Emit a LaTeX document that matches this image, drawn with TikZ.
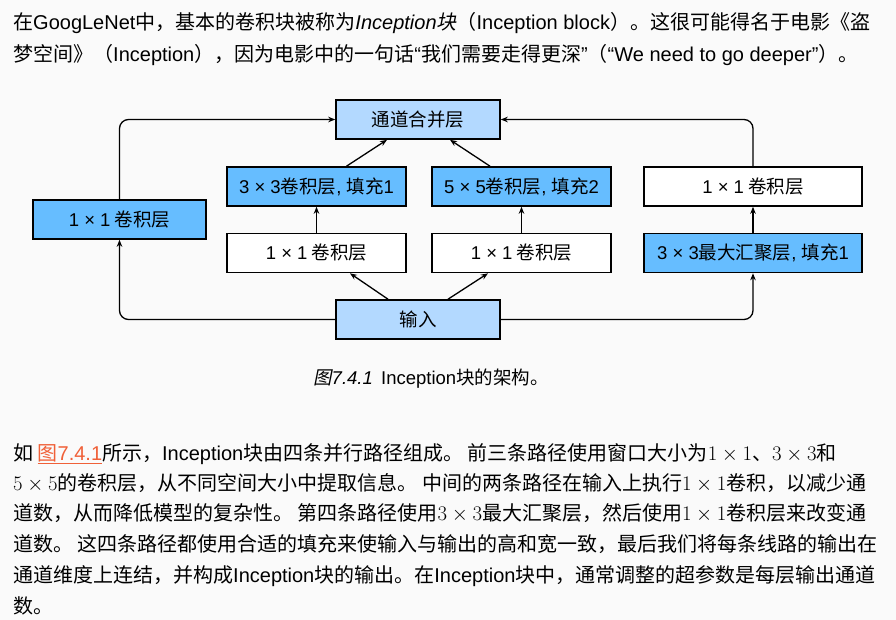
\documentclass[tikz,border=0pt]{standalone}
\usepackage{fontspec}
\setmainfont{Noto Sans CJK SC}
\newfontfamily\slantcjk{Noto Sans CJK SC}[FakeSlant=0.2]
\newfontfamily\latinfont{Liberation Sans}
\newcommand\lat[1]{{\latinfont #1}}
\newcommand\latit[1]{{\latinfont\itshape #1}}
\definecolor{PageGray}{RGB}{250,250,250}
\definecolor{PaleBlue}{RGB}{179,217,255}
\definecolor{MidBlue}{RGB}{102,189,255}
\definecolor{LinkOrange}{RGB}{240,96,56}
\usetikzlibrary{arrows.meta}

\tikzset{
  layer/.style={draw=black, line width=1.6pt, minimum height=39pt, inner sep=0pt,
                font=\fontsize{18.5}{20}\selectfont},
  pale/.style={layer, fill=PaleBlue},
  conv/.style={layer, fill=MidBlue},
  plain/.style={layer, fill=white},
  flow/.style={line width=1.3pt, -{Stealth[length=7pt,width=5.5pt]}},
  elbow/.style={flow, rounded corners=9pt},
  body/.style={anchor=base west, inner sep=0pt, font=\fontsize{20}{24}\selectfont}
}

\begin{document}
\begin{tikzpicture}[x=1pt, y=-1pt]
  \fill[PageGray] (0,0) rectangle (896,620);
  \useasboundingbox (0,0) rectangle (896,620);

  % text above the figure
  \node[body] (t1) at (13,30)
    {在\lat{GoogLeNet}中，基本的卷积块被称为\latit{Inception}{\slantcjk 块}（\lat{Inception block}）。这很可能得名于电影《盗};
  \node[body] (t2) at (13,62)
    {梦空间》（\lat{Inception}），因为电影中的一句话\lat{“}我们需要走得更深\lat{”}（\lat{“We need to go deeper”}）。};

  % the block
  \node[pale,  minimum width=164pt] (concat) at (418,119.5) {通道合并层};
  \node[conv,  minimum width=173pt] (left)   at (119.5,219.5) {\lat{1 × 1} 卷积层};
  \node[conv,  minimum width=179pt] (c3)     at (316.5,186.5) {\lat{3 × 3}卷积层\lat{, }填充\lat{1}};
  \node[plain, minimum width=179pt] (r1a)    at (316.5,253) {\lat{1 × 1} 卷积层};
  \node[conv,  minimum width=179pt] (c5)     at (521.5,186.5) {\lat{5 × 5}卷积层\lat{, }填充\lat{2}};
  \node[plain, minimum width=179pt] (r1b)    at (521.5,253) {\lat{1 × 1} 卷积层};
  \node[plain, minimum width=218pt] (r1c)    at (753,186.5) {\lat{1 × 1} 卷积层};
  \node[conv,  minimum width=218pt] (pool)   at (753,253) {\lat{3 × 3}最大汇聚层\lat{, }填充\lat{1}};
  \node[pale,  minimum width=164pt] (input)  at (418,319.5) {输入};

  \draw[elbow] (input.west) -| (left.south);
  \draw[elbow] (left.north) |- (concat.west);
  \draw[elbow] (input.east) -| (pool.south);
  \draw[flow] (pool) -- (r1c);
  \draw[elbow] (r1c.north) |- (concat.east);
  \draw[flow] ([xshift=-30pt]input.north) -- ([xshift=33.5pt]r1a.south);
  \draw[flow] ([xshift=30pt]input.north) -- ([xshift=-33.5pt]r1b.south);
  \draw[flow] (r1a) -- (c3);
  \draw[flow] (r1b) -- (c5);
  \draw[flow] ([xshift=30pt]c3.north) -- ([xshift=-31pt]concat.south);
  \draw[flow] ([xshift=-31.5pt]c5.north) -- ([xshift=32pt]concat.south);

  \node[anchor=base, inner sep=0pt, font=\fontsize{18.5}{22}\selectfont] (cap) at (431,384.5)
    {{\slantcjk 图}\latit{7.4.1}\ \ \lat{Inception}块的架构。};

  % text below the figure
  \node[body] (p1) at (13,460)
    {如 \textcolor{LinkOrange}{\underline{图\lat{7.4.1}}}所示，\lat{Inception}块由四条并行路径组成。 前三条路径使用窗口大小为$1\times1$、$3\times3$和};
  \node[body] (p2) at (13,490)
    {$5\times5$的卷积层，从不同空间大小中提取信息。 中间的两条路径在输入上执行$1\times1$卷积，以减少通};
  \node[body] (p3) at (13,520)
    {道数，从而降低模型的复杂性。 第四条路径使用$3\times3$最大汇聚层，然后使用$1\times1$卷积层来改变通};
  \node[body] (p4) at (13,551)
    {道数。 这四条路径都使用合适的填充来使输入与输出的高和宽一致，最后我们将每条线路的输出在};
  \node[body] (p5) at (13,582)
    {通道维度上连结，并构成\lat{Inception}块的输出。在\lat{Inception}块中，通常调整的超参数是每层输出通道};
  \node[body] (p6) at (13,613) {数。};
\end{tikzpicture}
\end{document}
